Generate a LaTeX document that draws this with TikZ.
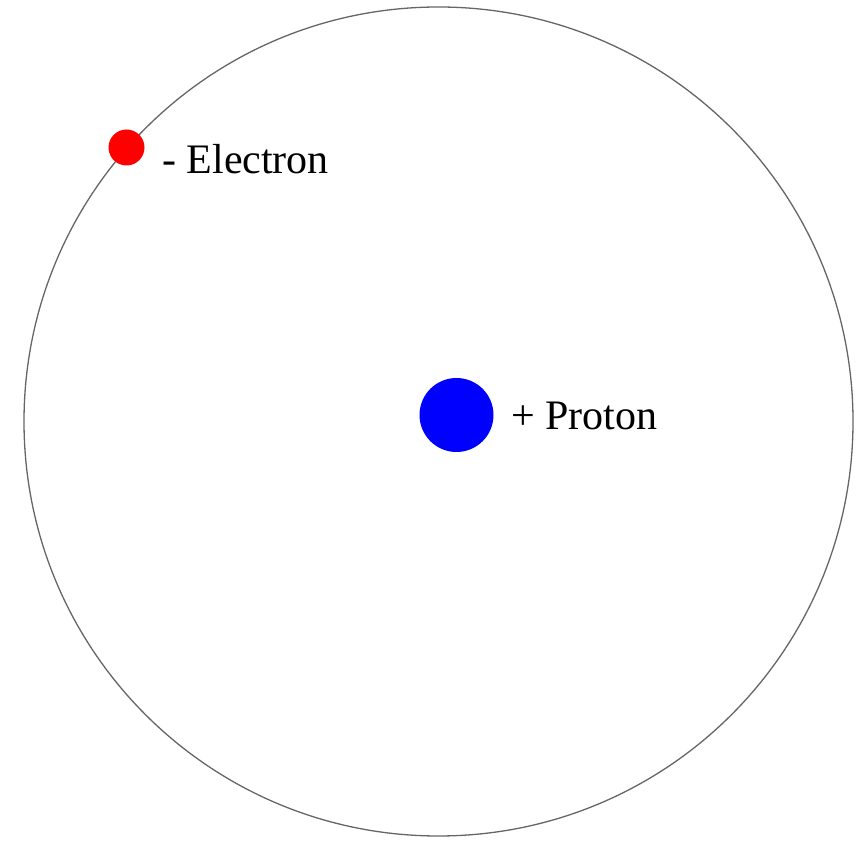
\documentclass[tikz,border=0pt]{standalone}
\usepackage{fontspec}
\setmainfont{Liberation Serif}
\begin{document}
\begin{tikzpicture}[x=1pt,y=1pt,
  orbit/.style={draw=black!60,line width=1.3pt},
  particle/.style={circle,inner sep=0pt,draw=none},
  lbl/.style={inner sep=0pt,anchor=base west,font=\fontsize{42}{50}\selectfont}]
\useasboundingbox[fill=white] (0,0) rectangle (858,842);
\node[particle,orbit,minimum size=829pt,fill=none] (orbit) at (438.5,420.5) {};
\node[particle,fill=blue,minimum size=74pt] (proton) at (456.5,427) {};
\node[particle,fill=red,minimum size=36pt] (electron) at (126.5,694.5) {};
\node[lbl] (plabel) at (511,412) {+ Proton};
\node[lbl] (elabel) at (162,668) {- Electron};
\end{tikzpicture}
\end{document}
